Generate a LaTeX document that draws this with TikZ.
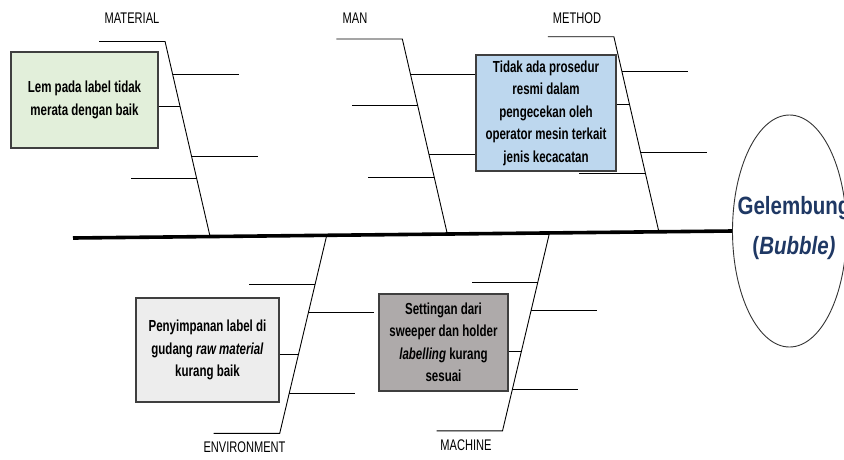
\documentclass[tikz,border=0pt]{standalone}
\usepackage{fontspec}
\setmainfont{Liberation Sans}[FakeStretch=0.72]
\newfontfamily\headfont{Liberation Sans}[FakeStretch=0.82]
\usetikzlibrary{shapes.geometric,calc}
\definecolor{causeGreen}{HTML}{E2EFDA}
\definecolor{causeBlue}{HTML}{BDD7EE}
\definecolor{causeLight}{HTML}{EDEDED}
\definecolor{causeDark}{HTML}{AEAAAA}
\definecolor{causeEdge}{HTML}{3F3F3F}
\definecolor{headBlue}{HTML}{1F3864}

\begin{document}
\begin{tikzpicture}[x=1pt,y=-1pt,cat/.style={font=\fontsize{15.4}{18}\selectfont},cause/.style={shape=rectangle,draw=causeEdge,line width=1.4pt,align=center,inner sep=0pt,font=\fontsize{16}{22.5}\selectfont\bfseries},causeG/.style={cause,fill=causeGreen},causeB/.style={cause,fill=causeBlue},causeL/.style={cause,fill=causeLight},causeD/.style={cause,fill=causeDark},head/.style={shape=ellipse,draw=black!80,line width=0.9pt,inner sep=0pt,minimum width=114pt,minimum height=232pt},bone/.style={line width=0.9pt},spine/.style={line width=3.6pt}]
\def\tw{66};
\def\bx{45};
\def\by{195};
\def\bxx{47};
\def\byy{198};

\useasboundingbox (0,0) rectangle (844,459);
\clip (0,0) rectangle (844,459);

\coordinate (Tail) at (73,238);
\node[head] (Head) at (789.5,231) {};
\node[font=\headfont\bfseries\fontsize{25}{40}\selectfont,text=headBlue,align=center] (Effect) at (794,228) {Gelembung\\(\textit{Bubble)}};
\draw[spine] (Tail) -- (Head.west);

% material
\coordinate (MatS) at ($(Tail)!0.208!(Head.west)$);
\coordinate (MatT) at ($(MatS)+(-\bx,-\by)$);
\coordinate (MatE) at ($(MatT)+(-\tw,0)$);
\draw[bone] (MatE) -- (MatT) -- (MatS);
\node[cat] (Mat) at (132,18) {MATERIAL};
\node[causeG,minimum width=147pt,minimum height=96pt] (Lem) at (84.5,100) {Lem pada label tidak\\merata dengan baik};
\coordinate (Mat1) at ($(MatT)!0.17!(MatS)$); \coordinate (Mat1e) at ($(Mat1)+(\tw,0)$);
\draw[bone] (Mat1) -- (Mat1e);
\coordinate (Mat2) at ($(MatT)!0.335!(MatS)$);
\draw[bone] (Mat2 -| Lem.east) -- (Mat2);
\coordinate (Mat3) at ($(MatT)!0.59!(MatS)$); \coordinate (Mat3e) at ($(Mat3)+(\tw,0)$);
\draw[bone] (Mat3) -- (Mat3e);
\coordinate (Mat4) at ($(MatT)!0.70!(MatS)$); \coordinate (Mat4e) at ($(Mat4)+(-\tw,0)$);
\draw[bone] (Mat4) -- (Mat4e);

% man
\coordinate (ManS) at ($(Tail)!0.568!(Head.west)$);
\coordinate (ManT) at ($(ManS)+(-\bx,-\by)$);
\coordinate (ManE) at ($(ManT)+(-\tw,0)$);
\draw[bone] (ManE) -- (ManT) -- (ManS);
\node[cat] (Man) at (355,18) {MAN};
\node[causeB,minimum width=140pt,minimum height=116pt] (Prosedur) at (546,113) {Tidak ada prosedur\\resmi dalam\\pengecekan oleh\\operator mesin terkait\\jenis kecacatan};
\coordinate (Man1) at ($(ManT)!0.18!(ManS)$);
\draw[bone] (Man1) -- (Man1 -| Prosedur.west);
\coordinate (Man2) at ($(ManT)!0.34!(ManS)$); \coordinate (Man2e) at ($(Man2)+(-\tw,0)$);
\draw[bone] (Man2) -- (Man2e);
\coordinate (Man3) at ($(ManT)!0.59!(ManS)$);
\draw[bone] (Man3) -- (Man3 -| Prosedur.west);
\coordinate (Man4) at ($(ManT)!0.71!(ManS)$); \coordinate (Man4e) at ($(Man4)+(-\tw,0)$);
\draw[bone] (Man4) -- (Man4e);

% method
\coordinate (MetS) at ($(Tail)!0.889!(Head.west)$);
\coordinate (MetT) at ($(MetS)+(-\bx,-\by)$);
\coordinate (MetE) at ($(MetT)+(-\tw,0)$);
\draw[bone] (MetE) -- (MetT) -- (MetS);
\node[cat] (Met) at (577,18) {METHOD};
\coordinate (Met1) at ($(MetT)!0.18!(MetS)$); \coordinate (Met1e) at ($(Met1)+(\tw,0)$);
\draw[bone] (Met1) -- (Met1e);
\coordinate (Met2) at ($(MetT)!0.345!(MetS)$);
\draw[bone] (Met2 -| Prosedur.east) -- (Met2);
\coordinate (Met3) at ($(MetT)!0.595!(MetS)$); \coordinate (Met3e) at ($(Met3)+(\tw,0)$);
\draw[bone] (Met3) -- (Met3e);
\coordinate (Met4) at ($(MetT)!0.70!(MetS)$); \coordinate (Met4e) at ($(Met4)+(-\tw,0)$);
\draw[bone] (Met4) -- (Met4e);

% environment
\coordinate (EnvS) at ($(Tail)!0.385!(Head.west)$);
\coordinate (EnvB) at ($(EnvS)+(-\bxx,\byy)$);
\coordinate (EnvE) at ($(EnvB)+(-\tw,0)$);
\draw[bone] (EnvE) -- (EnvB) -- (EnvS);
\node[cat] (Env) at (244.5,447) {ENVIRONMENT};
\node[causeL,minimum width=143pt,minimum height=104pt] (Simpan) at (207.5,350) {Penyimpanan label di\\gudang \textit{raw material}\\kurang baik};
\coordinate (Env1) at ($(EnvS)!0.25!(EnvB)$); \coordinate (Env1e) at ($(Env1)+(-\tw,0)$);
\draw[bone] (Env1) -- (Env1e);
\coordinate (Env2) at ($(EnvS)!0.39!(EnvB)$); \coordinate (Env2e) at ($(Env2)+(\tw,0)$);
\draw[bone] (Env2) -- (Env2e);
\coordinate (Env3) at ($(EnvS)!0.60!(EnvB)$);
\draw[bone] (Env3 -| Simpan.east) -- (Env3);
\coordinate (Env4) at ($(EnvS)!0.80!(EnvB)$); \coordinate (Env4e) at ($(Env4)+(\tw,0)$);
\draw[bone] (Env4) -- (Env4e);

% machine
\coordinate (MacS) at ($(Tail)!0.723!(Head.west)$);
\coordinate (MacB) at ($(MacS)+(-\bxx,\byy)$);
\coordinate (MacE) at ($(MacB)+(-\tw,0)$);
\draw[bone] (MacE) -- (MacB) -- (MacS);
\node[cat] (Mac) at (466,445) {MACHINE};
\node[causeD,minimum width=129pt,minimum height=97pt] (Setting) at (443.5,342.5) {Settingan dari\\sweeper dan holder\\\textit{labelling} kurang\\sesuai};
\coordinate (Mac1) at ($(MacS)!0.25!(MacB)$); \coordinate (Mac1e) at ($(Mac1)+(-\tw,0)$);
\draw[bone] (Mac1) -- (Mac1e);
\coordinate (Mac2) at ($(MacS)!0.39!(MacB)$); \coordinate (Mac2e) at ($(Mac2)+(\tw,0)$);
\draw[bone] (Mac2) -- (Mac2e);
\coordinate (Mac3) at ($(MacS)!0.60!(MacB)$);
\draw[bone] (Mac3 -| Setting.east) -- (Mac3);
\coordinate (Mac4) at ($(MacS)!0.79!(MacB)$); \coordinate (Mac4e) at ($(Mac4)+(\tw,0)$);
\draw[bone] (Mac4) -- (Mac4e);
\end{tikzpicture}
\end{document}
